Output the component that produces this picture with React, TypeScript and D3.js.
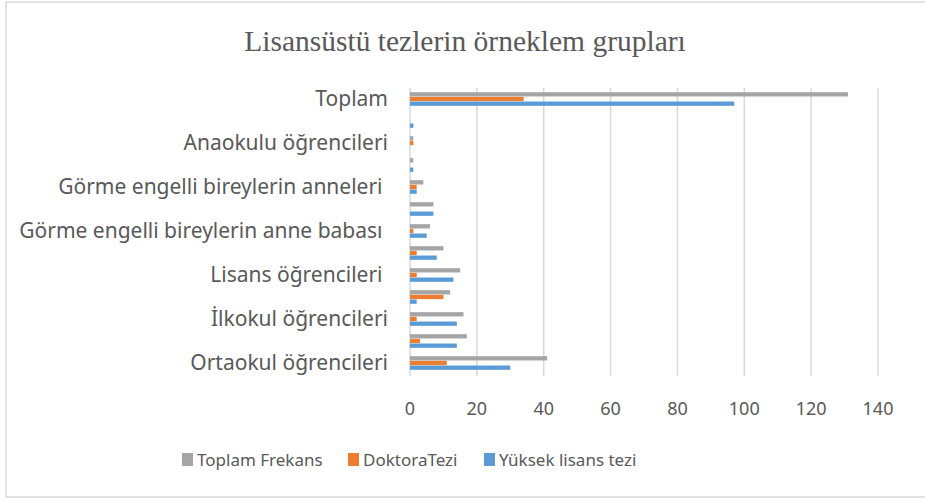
import React from "react";
import * as d3 from "d3";

const categories = [
  "Toplam",
  "c2",
  "Anaokulu öğrencileri",
  "c4",
  "Görme engelli bireylerin anneleri ",
  "c6",
  "Görme engelli bireylerin anne babası ",
  "c8",
  "Lisans öğrencileri ",
  "c10",
  "İlkokul öğrencileri",
  "c12",
  "Ortaokul öğrencileri",
];
const shownLabels = [
  "Toplam",
  "",
  "Anaokulu öğrencileri",
  "",
  "Görme engelli bireylerin anneleri ",
  "",
  "Görme engelli bireylerin anne babası ",
  "",
  "Lisans öğrencileri ",
  "",
  "İlkokul öğrencileri",
  "",
  "Ortaokul öğrencileri",
];
const toplamFrekans = [131, 0, 1, 1, 4, 7, 6, 10, 15, 12, 16, 17, 41];
const doktoraTezi = [34, 0, 1, 0, 2, 0, 1, 2, 2, 10, 2, 3, 11];
const yuksekLisans = [97, 1, 0, 1, 2, 7, 5, 8, 13, 2, 14, 14, 30];
const xTicks = [0, 20, 40, 60, 80, 100, 120, 140];

const seriesNames = ["Toplam Frekans", "DoktoraTezi", "Yüksek lisans tezi"];
const seriesColors = ["#A5A5A5", "#ED7D31", "#5B9BD5"];
const seriesData = [toplamFrekans, doktoraTezi, yuksekLisans];

export default function App() {
  const W = 925;
  const H = 501;
  const x = d3.scaleLinear().domain([0, 140]).range([410, 878]);
  const y = d3.scaleBand().domain(categories).range([88, 374]).paddingInner(0.38).paddingOuter(0.19);
  const inner = d3.scaleBand().domain(seriesNames).range([0, y.bandwidth()]).paddingInner(0.08);
  const font = "'Noto Sans', 'Open Sans', sans-serif";
  const textColor = "#595959";
  const legendX = [182, 348, 484];

  return (
    <svg width={W} height={H} style={{ position: "absolute", left: 0, top: 0 }}>
      <rect x={0} y={0} width={W} height={H} fill="#fff" />
      <rect x={6} y={2} width={W + 10} height={495} fill="#fff" stroke="#D9D9D9" strokeWidth={1.5} />
      <text x={465} y={51} textAnchor="middle" fontFamily="'Liberation Serif', 'Times New Roman', serif" fontSize={29.5} fill={textColor}>
        Lisansüstü tezlerin örneklem grupları
      </text>
      {xTicks.map((t) => (
        <line key={"g" + t} x1={x(t)} x2={x(t)} y1={88} y2={376} stroke="#D9D9D9" strokeWidth={1.5} />
      ))}
      {categories.map((c, i) => (
        <g key={c}>
          {seriesData.map((s, k) => (
            <rect
              key={k}
              x={x(0)}
              y={(y(c) as number) + (inner(seriesNames[k]) as number)}
              width={x(s[i]) - x(0)}
              height={inner.bandwidth()}
              fill={seriesColors[k]}
            />
          ))}
        </g>
      ))}
      {categories.map((c, i) =>
        shownLabels[i] ? (
          <text
            key={"l" + c}
            x={388}
            y={(y(c) as number) + y.bandwidth() / 2 + 7}
            textAnchor="end"
            fontFamily={font}
            fontSize={21}
            fill={textColor}
            style={{ whiteSpace: "pre" }}
          >
            {shownLabels[i]}
          </text>
        ) : null
      )}
      {xTicks.map((t) => (
        <text key={"t" + t} x={x(t)} y={415} textAnchor="middle" fontFamily={font} fontSize={18} fill={textColor}>
          {t}
        </text>
      ))}
      {seriesNames.map((n, k) => (
        <g key={n}>
          <rect x={legendX[k]} y={453} width={11} height={13} fill={seriesColors[k]} />
          <text x={legendX[k] + 15} y={466} fontFamily={font} fontSize={17} fill={textColor}>
            {n}
          </text>
        </g>
      ))}
    </svg>
  );
}
